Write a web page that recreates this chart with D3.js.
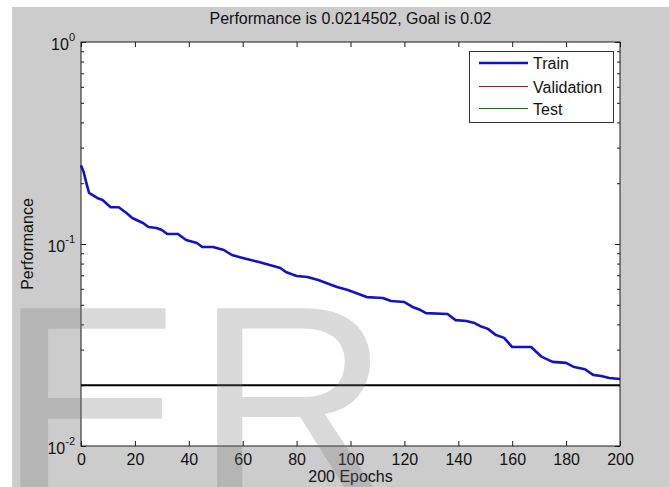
<!DOCTYPE html>
<html>
<head>
<meta charset="utf-8">
<script src="https://cdn.jsdelivr.net/npm/d3@7"></script>
<style>
  html, body { margin: 0; padding: 0; background: #ffffff; }
  svg { display: block; font-family: "Liberation Sans", Arial, Helvetica, sans-serif; }
</style>
</head>
<body>
<svg id="chart" width="669" height="487"></svg>
<script>
// ---- data ----
const titleText = "Performance is 0.0214502, Goal is 0.02";
const xLabelText = "200 Epochs";
const yLabelText = "Performance";
const xTicks = [0, 20, 40, 60, 80, 100, 120, 140, 160, 180, 200];
const yMajorTicks = [0.01, 0.1, 1];
const yMajorExponents = ["-2", "-1", "0"];
const yMinorTicks = [0.02, 0.03, 0.04, 0.05, 0.06, 0.07, 0.08, 0.09,
                     0.2, 0.3, 0.4, 0.5, 0.6, 0.7, 0.8, 0.9];
const goalValue = 0.02;
const trainEpochs = [0, 1, 2, 3, 6, 8, 11, 14, 17, 19, 23, 25, 28, 30, 32, 36, 39, 43, 45, 49,
  53, 56, 60, 63, 66, 70, 74, 76, 80, 84, 88, 91, 95, 99, 102, 106, 112, 115, 120, 123,
  126, 128, 136, 139, 143, 146, 148, 151, 154, 157, 160, 167, 169, 171, 175, 180, 183,
  187, 190, 193, 196, 200];
const trainPerf = [0.245, 0.227, 0.200, 0.179, 0.169, 0.165, 0.152, 0.152, 0.142, 0.1345,
  0.127, 0.1213, 0.120, 0.1172, 0.112, 0.112, 0.1047, 0.1011, 0.0966, 0.0966,
  0.0934, 0.0882, 0.0853, 0.0833, 0.0815, 0.0787, 0.0761, 0.0727, 0.0694, 0.0687,
  0.0663, 0.0641, 0.0612, 0.0592, 0.0572, 0.0546, 0.0540, 0.0522, 0.0516, 0.0488,
  0.0471, 0.0455, 0.0450, 0.0420, 0.0416, 0.0406, 0.0393, 0.0380, 0.0354, 0.0343,
  0.0309, 0.0309, 0.0292, 0.0276, 0.0261, 0.0258, 0.0246, 0.0240, 0.0225, 0.0222,
  0.0217, 0.02145];
const legendLabels = ["Train", "Validation", "Test"];
const legendColors = ["#1212c8", "#dd0000", "#008a00"];
const legendWidths = [2.6, 1, 1];
const watermarkLetters = ["F", "R"];

// ---- layout ----
const svg = d3.select("#chart");
const W = 669, H = 487;
const plot = { left: 81, right: 620, top: 42, bottom: 446 };
const axisColor = "#1a1a1a";

svg.append("rect").attr("x", 12).attr("y", 7).attr("width", W - 12).attr("height", H - 7)
  .attr("fill", "#cccccc");

const x = d3.scaleLinear().domain([0, 200]).range([plot.left, plot.right]);
const y = d3.scaleLog().domain([0.01, 1]).range([plot.bottom, plot.top]);

svg.append("rect").attr("x", plot.left).attr("y", plot.top)
  .attr("width", plot.right - plot.left).attr("height", plot.bottom - plot.top)
  .attr("fill", "#ffffff");

// axes (ticks inward)
function styleAxis(g) {
  g.select(".domain").remove();
  g.selectAll(".tick line").attr("stroke", axisColor).attr("stroke-width", 1);
  g.selectAll(".tick text").attr("fill", "#111").attr("font-size", 16)
    .attr("font-family", "'Liberation Sans', Arial, sans-serif");
}

svg.append("g").attr("transform", `translate(0,${plot.bottom})`)
  .call(d3.axisBottom(x).tickValues(xTicks).tickSizeInner(-5).tickSizeOuter(0).tickPadding(8)
    .tickFormat(d3.format("d")))
  .call(styleAxis);

svg.append("g").attr("transform", `translate(0,${plot.top})`)
  .call(d3.axisTop(x).tickValues(xTicks).tickSizeInner(-5).tickSizeOuter(0).tickFormat(""))
  .call(styleAxis);

svg.append("g").attr("transform", `translate(${plot.left},0)`)
  .call(d3.axisLeft(y).tickValues(yMajorTicks).tickSizeInner(-5).tickSizeOuter(0).tickFormat(""))
  .call(styleAxis);
svg.append("g").attr("transform", `translate(${plot.left},0)`)
  .call(d3.axisLeft(y).tickValues(yMinorTicks).tickSizeInner(-3).tickSizeOuter(0).tickFormat(""))
  .call(styleAxis);
svg.append("g").attr("transform", `translate(${plot.right},0)`)
  .call(d3.axisRight(y).tickValues(yMajorTicks).tickSizeInner(-5).tickSizeOuter(0).tickFormat(""))
  .call(styleAxis);
svg.append("g").attr("transform", `translate(${plot.right},0)`)
  .call(d3.axisRight(y).tickValues(yMinorTicks).tickSizeInner(-3).tickSizeOuter(0).tickFormat(""))
  .call(styleAxis);

// y major labels with superscripts
yMajorTicks.forEach((v, i) => {
  const t = svg.append("text")
    .attr("x", plot.left - 6).attr("y", y(v) + 8)
    .attr("text-anchor", "end").attr("fill", "#111").attr("font-size", 16);
  t.append("tspan").text("10");
  t.append("tspan").attr("font-size", 11).attr("dy", -9).text(yMajorExponents[i]);
});

// goal line
svg.append("line")
  .attr("x1", plot.left).attr("x2", plot.right)
  .attr("y1", y(goalValue)).attr("y2", y(goalValue))
  .attr("stroke", "#000").attr("stroke-width", 2);

// train line
const line = d3.line().x((d, i) => x(trainEpochs[i])).y(d => y(d));
svg.append("path").datum(trainPerf)
  .attr("d", line).attr("fill", "none")
  .attr("stroke", legendColors[0]).attr("stroke-width", 2.6)
  .attr("stroke-linejoin", "round");

// box
svg.append("rect").attr("x", plot.left).attr("y", plot.top)
  .attr("width", plot.right - plot.left).attr("height", plot.bottom - plot.top)
  .attr("fill", "none").attr("stroke", axisColor).attr("stroke-width", 1);

// legend
const lg = { x: 469, y: 51, w: 144, h: 71 };
svg.append("rect").attr("x", lg.x + 0.5).attr("y", lg.y + 0.5).attr("width", lg.w).attr("height", lg.h)
  .attr("fill", "#fff").attr("stroke", "#333").attr("stroke-width", 1);
const legendRowY = [63, 86.5, 108.5];
legendLabels.forEach((lab, i) => {
  svg.append("line").attr("x1", 479).attr("x2", 528)
    .attr("y1", legendRowY[i]).attr("y2", legendRowY[i])
    .attr("stroke", legendColors[i]).attr("stroke-width", legendWidths[i]);
  svg.append("text").attr("x", 533).attr("y", Math.round(legendRowY[i]) + 6)
    .attr("font-size", 16).attr("fill", "#111").text(lab);
});

// title and labels
svg.append("text").attr("x", (plot.left + plot.right) / 2).attr("y", 24)
  .attr("text-anchor", "middle").attr("font-size", 16).attr("fill", "#111").text(titleText);
svg.append("text").attr("x", (plot.left + plot.right) / 2).attr("y", 482)
  .attr("text-anchor", "middle").attr("font-size", 16).attr("fill", "#111").text(xLabelText);
svg.append("text").attr("transform", `translate(33,${(plot.top + plot.bottom) / 2}) rotate(-90)`)
  .attr("text-anchor", "middle").attr("font-size", 16).attr("fill", "#111").text(yLabelText);

// watermark
const wmX = [-4, 195];
const wmScaleX = [1.1, 1];
watermarkLetters.forEach((ch, i) => {
  svg.append("text")
    .attr("transform", `translate(${wmX[i]},494) scale(${wmScaleX[i]},1)`)
    .attr("font-size", 270).attr("fill", "rgba(120,120,120,0.27)")
    .attr("pointer-events", "none").text(ch);
});
</script>
</body>
</html>
